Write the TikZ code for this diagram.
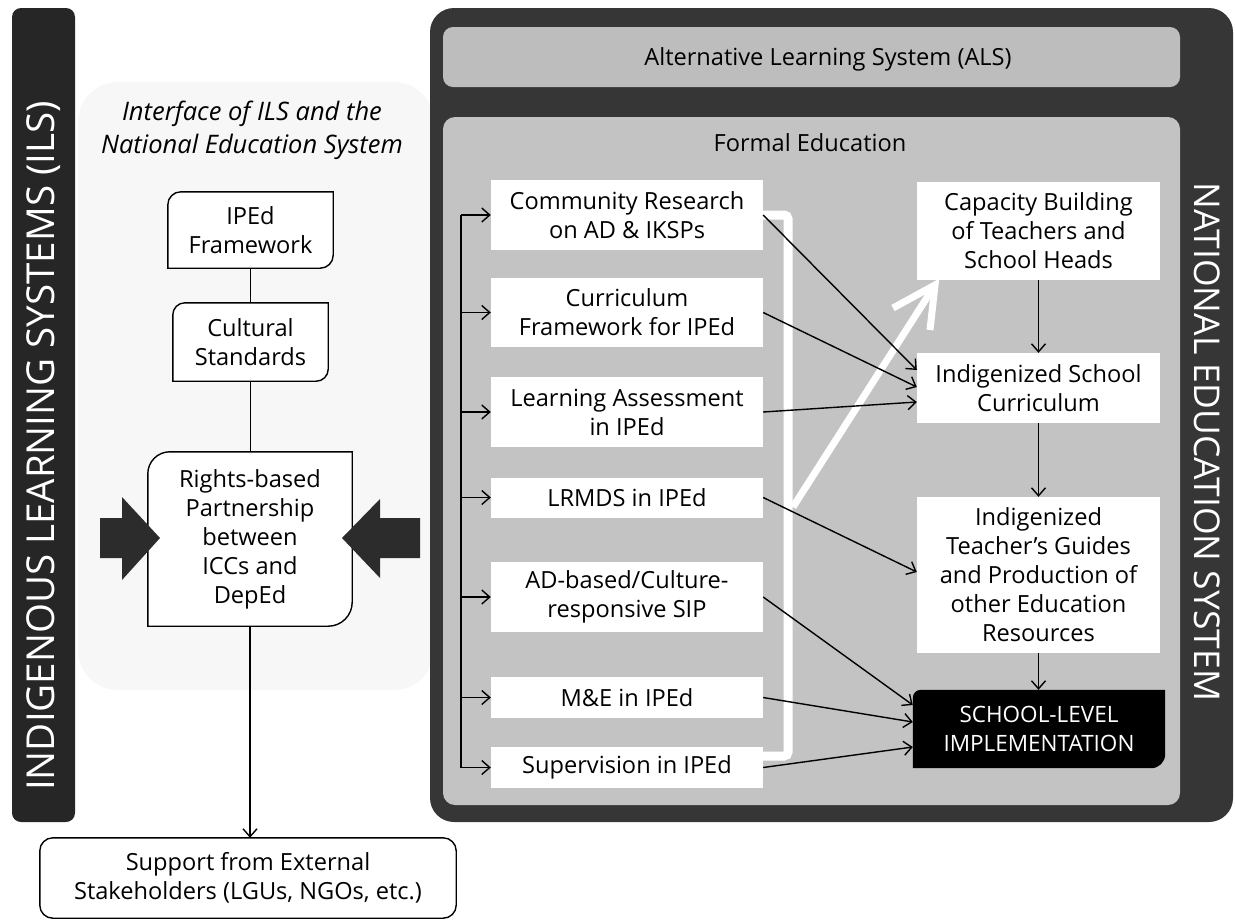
\documentclass[tikz,border=0pt]{standalone}
\usepackage{fontspec}
\setmainfont{Open Sans}
\usetikzlibrary{arrows.meta,calc}
\pgfdeclarelayer{bg}
\pgfdeclarelayer{mid}
\pgfsetlayers{bg,mid,main}

\definecolor{barblack}{HTML}{262626}
\definecolor{outerdark}{HTML}{363636}
\definecolor{panelgray}{HTML}{C3C3C3}
\definecolor{alsgray}{HTML}{BDBDBD}
\definecolor{speck}{HTML}{F7F7F7}
\definecolor{bigarrow}{HTML}{2C2C2C}

\tikzset{
  lbl/.style={font=\fontsize{23.6}{29}\selectfont, align=center, text=black, inner sep=0pt},
  wbox/.style={lbl, fill=white},
  arr/.style={draw=black, line width=1.4pt, -{Straight Barb[length=8pt,width=14pt,line width=1.4pt]}},
  lnk/.style={draw=black, line width=1.4pt},
  boxline/.style={draw=black, line width=1.4pt, fill=white},
  vlabel/.style={text=white, inner sep=0pt},
}

% #1 node, #2 top-left radius, #3 bottom-right radius, #4 style
\newcommand{\cornerbox}[4]{%
  \path[#4] let \p1=(#1.north west), \p2=(#1.south east) in
    (\x1,{\y1-#2pt}) .. controls (\x1,{\y1-0.448*#2pt}) and ({\x1+0.448*#2pt},\y1) .. ({\x1+#2pt},\y1)
    -- (\x2,\y1) -- (\x2,{\y2+#3pt})
    .. controls (\x2,{\y2+0.448*#3pt}) and ({\x2-0.448*#3pt},\y2) .. ({\x2-#3pt},\y2)
    -- (\x1,\y2) -- cycle;}

\begin{document}
\begin{tikzpicture}[x=1pt,y=-1pt]
\useasboundingbox (0,0) rectangle (1235,922);

% ---------- backgrounds ----------
\begin{pgfonlayer}{bg}
  \fill[speck, rounded corners=40pt] (78,82) rectangle (434,690);
  \fill[barblack, rounded corners=9pt] (12,8) rectangle (75,822);
  \fill[outerdark, rounded corners=24pt] (430,8) rectangle (1233,822);
  \fill[alsgray, rounded corners=10pt] (443,27) rectangle (1180,87);
  \fill[panelgray, rounded corners=12pt] (443,117) rectangle (1180,805);
  % white bracket behind the middle column
  \draw[white, line width=9pt, rounded corners=4pt] (760,215) -- (788,215) -- (788,756) -- (760,756);
  % white upward arrow
  \coordinate (wa) at (793,507);
  \coordinate (wt) at (935,285);
  \coordinate (wb1) at (893,308);
  \coordinate (wb2) at (930,330);
  \draw[white, line width=7pt] (wa) -- ($(wt)!6pt!(wa)$);
  \draw[white, line width=7pt, line join=miter] (wb1) -- (wt) -- (wb2);
\end{pgfonlayer}

% ---------- panel labels ----------
\node[vlabel, rotate=90, font=\fontsize{38.5}{42}\selectfont] (ils) at (43.5,446) {INDIGENOUS LEARNING SYSTEMS (ILS)};
\node[vlabel, rotate=-90, font=\fontsize{35.5}{40}\selectfont] (nes) at (1207,442) {NATIONAL EDUCATION SYSTEM};
\node[lbl] (als) at (828,59) {Alternative Learning System (ALS)};
\node[lbl] (fe) at (810,143) {Formal Education};
\node[lbl, font=\itshape\fontsize{25.5}{33}\selectfont] (ttl) at (252,130) {Interface of ILS and the\\National Education System};

% ---------- left column ----------
\node[lbl, minimum width=165pt, minimum height=76pt] (ipd) at (250.5,230) {IPEd\\Framework};
\node[lbl, minimum width=155pt, minimum height=78pt] (cul) at (250.5,342) {Cultural\\Standards};
\node[lbl, minimum width=204pt, minimum height=174pt] (rbp) at (250,539) {Rights-based\\Partnership\\between\\ICCs and\\DepEd};
\node[lbl, minimum width=416pt, minimum height=80pt] (ext) at (248,878) {Support from External\\Stakeholders (LGUs, NGOs, etc.)};
\begin{pgfonlayer}{mid}
  \cornerbox{ipd}{13}{13}{boxline}
  \cornerbox{cul}{12}{12}{boxline}
  \cornerbox{rbp}{22}{24}{boxline}
  \draw[boxline, rounded corners=13pt] (ext.north west) rectangle (ext.south east);
\end{pgfonlayer}

\draw[lnk] (ipd.south) -- (cul.north);
\draw[lnk] (cul.south) -- (cul.south |- rbp.north);
\draw[arr] (rbp.south) -- (rbp.south |- ext.north);

% big dark arrows
\fill[bigarrow] (100,518) -- (122,518) -- (122,497) -- (160,538) -- (122,580) -- (122,558) -- (100,558) -- cycle;
\fill[bigarrow] (420,518) -- (380,518) -- (380,499) -- (342,538) -- (380,578) -- (380,558) -- (420,558) -- cycle;

% ---------- middle column ----------
\node[wbox, minimum width=272pt, minimum height=70pt] (comm) at (627,215) {Community Research\\on AD \& IKSPs};
\node[wbox, minimum width=272pt, minimum height=69pt] (curr) at (627,312.5) {Curriculum\\Framework for IPEd};
\node[wbox, minimum width=272pt, minimum height=70pt] (lass) at (627,412) {Learning Assessment\\in IPEd};
\node[wbox, minimum width=272pt, minimum height=40pt] (lrm) at (627,497.5) {LRMDS in IPEd};
\node[wbox, minimum width=272pt, minimum height=70pt] (adb) at (627,597) {AD-based/Culture-\\responsive SIP};
\node[wbox, minimum width=272pt, minimum height=41pt] (mne) at (627,697.5) {M\&E in IPEd};
\node[wbox, minimum width=272pt, minimum height=41pt] (sup) at (627,767.5) {Supervision in IPEd};

\coordinate (vl) at (461,0);
\draw[lnk] (comm.west -| vl) -- (sup.west -| vl);
\foreach \b in {comm,curr,lass,lrm,adb,mne,sup}
  \draw[arr] (\b.west -| vl) -- (\b.west);

% ---------- right column ----------
\node[wbox, minimum width=243pt, minimum height=98pt] (cap) at (1038.5,231) {Capacity Building\\of Teachers and\\School Heads};
\node[wbox, minimum width=243pt, minimum height=70pt] (isc) at (1038.5,388) {Indigenized School\\Curriculum};
\node[wbox, minimum width=243pt, minimum height=156pt] (itg) at (1038.5,575) {Indigenized\\Teacher’s Guides\\and Production of\\other Education\\Resources};
\node[lbl, text=white, font=\fontsize{22.5}{29}\selectfont, minimum width=252pt, minimum height=78pt] (sli) at (1039,729) {SCHOOL-LEVEL\\IMPLEMENTATION};
\begin{pgfonlayer}{mid}
  \cornerbox{sli}{8}{14}{fill=black}
\end{pgfonlayer}

\draw[arr] (cap.south) -- (isc.north);
\draw[arr] (isc.south) -- (itg.north);
\draw[arr] (itg.south) -- (itg.south |- sli.north);

% ---------- diagonal connectors ----------
\draw[arr] (comm.east) -- ($(isc.west)+(0,-18)$);
\draw[arr] (curr.east) -- ($(isc.west)+(0,-1)$);
\draw[arr] (lass.east) -- ($(isc.west)+(0,14)$);
\draw[arr] (lrm.east) -- ($(itg.west)+(0,-3)$);
\draw[arr] (adb.east) -- ($(sli.west)+(0,-24)$);
\draw[arr] (mne.east) -- ($(sli.west)+(0,-7)$);
\draw[arr] (sup.east) -- ($(sli.west)+(0,18)$);

\end{tikzpicture}
\end{document}
